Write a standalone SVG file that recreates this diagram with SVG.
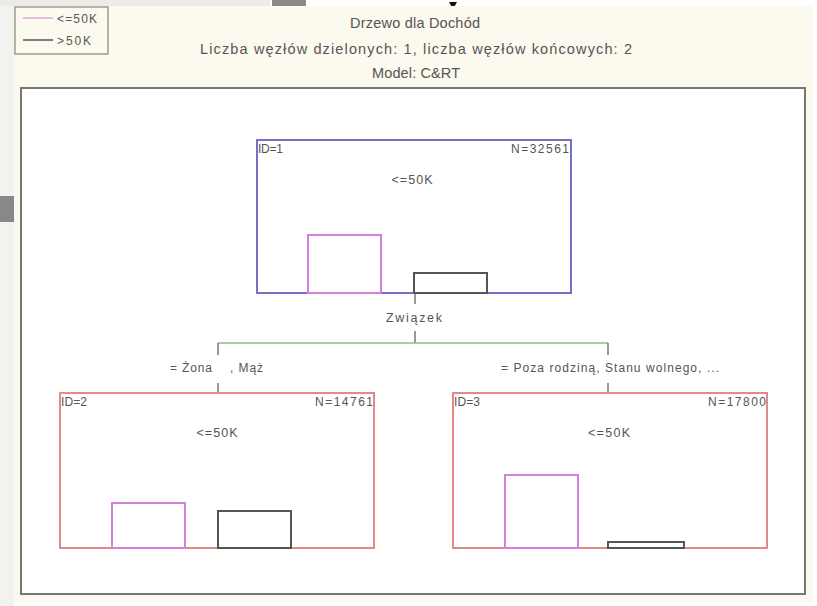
<svg xmlns="http://www.w3.org/2000/svg" width="817" height="606" viewBox="0 0 817 606">
<style>
text{font-family:"Liberation Sans",Arial,sans-serif;fill:#555;}
.t{font-size:14.5px;text-anchor:middle;}
.s{font-size:12px;}
.m{font-size:12.5px;text-anchor:middle;}
.n1{fill:#fff;stroke:#7472c4;stroke-width:2;}
.n2{fill:#fff;stroke:#e48888;stroke-width:2;}
.bp{fill:none;stroke:#d47fd8;stroke-width:2;}
.bk{fill:none;stroke:#555;stroke-width:2;}
.c{stroke:#555;stroke-width:1.2;fill:none;}
</style>
<rect x="0" y="0" width="817" height="606" fill="#fff"/>
<rect x="0" y="0" width="14" height="606" fill="#f2f2f0"/>
<rect x="0" y="0" width="270" height="6" fill="#ecebe6"/>
<rect x="0" y="196" width="14" height="26" fill="#888"/>
<rect x="272" y="0" width="34" height="6" fill="#8a8a8a"/>
<polygon points="449,2 457,2 453,9" fill="#111"/>
<rect x="14" y="6" width="799" height="596" fill="#fcf9ef"/>
<rect x="21" y="88" width="784" height="506" fill="#fff" stroke="#777" stroke-width="2"/>
<g id="legend">
<rect x="15" y="7" width="93" height="47" fill="#fcf9ef" stroke="#a09a8a" stroke-width="1.5"/>
<line x1="23" y1="18" x2="53" y2="18" stroke="#e0a8dc" stroke-width="1.5"/>
<text x="57" y="23" class="s" textLength="40" lengthAdjust="spacing">&lt;=50K</text>
<line x1="23" y1="40" x2="53" y2="40" stroke="#555" stroke-width="1.5"/>
<text x="57" y="45" class="s" textLength="34" lengthAdjust="spacing">&gt;50K</text>
</g>
<g id="title">
<text x="415" y="28" class="t" textLength="130" lengthAdjust="spacing">Drzewo dla Dochód</text>
<text x="416" y="54" class="t" textLength="432" lengthAdjust="spacing">Liczba węzłów dzielonych: 1, liczba węzłów końcowych: 2</text>
<text x="416" y="78" class="t" textLength="88" lengthAdjust="spacing">Model: C&amp;RT</text>
</g>
<g id="connectors">
<line x1="415" y1="293" x2="415" y2="304" class="c"/>
<line x1="415" y1="331" x2="415" y2="343" class="c"/>
<line x1="218" y1="343" x2="608" y2="343" stroke="#7ec87e" stroke-width="1.5"/>
<line x1="218" y1="343" x2="218" y2="355" class="c"/>
<line x1="608" y1="343" x2="608" y2="355" class="c"/>
<line x1="218" y1="383" x2="218" y2="393" class="c"/>
<line x1="608" y1="383" x2="608" y2="393" class="c"/>
<text x="414" y="322" class="m" textLength="56" lengthAdjust="spacing">Związek</text>
<text x="170" y="372" class="s" textLength="42" lengthAdjust="spacing">= Żona</text>
<text x="230" y="372" class="s" textLength="33" lengthAdjust="spacing">, Mąż</text>
<text x="501" y="372" class="s" textLength="218" lengthAdjust="spacing">= Poza rodziną, Stanu wolnego, ...</text>
</g>
<g id="node1">
<rect x="257" y="140" width="314" height="153" class="n1"/>
<text x="258" y="153" class="s" textLength="25" lengthAdjust="spacing">ID=1</text>
<text x="511" y="153" class="s" textLength="58" lengthAdjust="spacing">N=32561</text>
<text x="412" y="184" class="m" textLength="41" lengthAdjust="spacing">&lt;=50K</text>
<rect x="308" y="235" width="73" height="58" class="bp"/>
<rect x="414" y="273" width="73" height="20" class="bk"/>
</g>
<g id="node2">
<rect x="60" y="393" width="314" height="155" class="n2"/>
<text x="61" y="406" class="s" textLength="26" lengthAdjust="spacing">ID=2</text>
<text x="315" y="406" class="s" textLength="58" lengthAdjust="spacing">N=14761</text>
<text x="217" y="437" class="m" textLength="41" lengthAdjust="spacing">&lt;=50K</text>
<rect x="112" y="503" width="73" height="45" class="bp"/>
<rect x="218" y="511" width="73" height="37" class="bk"/>
</g>
<g id="node3">
<rect x="453" y="393" width="314" height="155" class="n2"/>
<text x="454" y="406" class="s" textLength="26" lengthAdjust="spacing">ID=3</text>
<text x="708" y="406" class="s" textLength="58" lengthAdjust="spacing">N=17800</text>
<text x="609" y="437" class="m" textLength="42" lengthAdjust="spacing">&lt;=50K</text>
<rect x="505" y="475" width="73" height="73" class="bp"/>
<rect x="608" y="542" width="76" height="6" class="bk"/>
</g>
</svg>
